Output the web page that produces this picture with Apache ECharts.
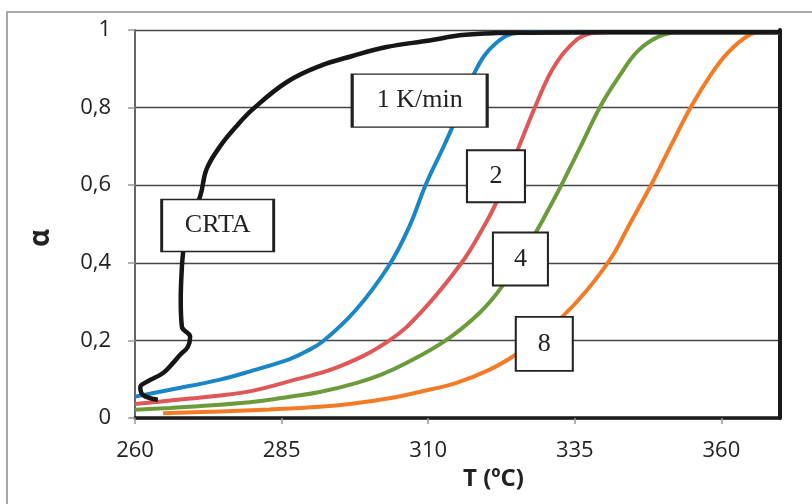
<!DOCTYPE html>
<html>
<head>
<meta charset="utf-8">
<script src="https://cdn.jsdelivr.net/npm/echarts@6/dist/echarts.min.js"></script>
<style>
  html, body { margin: 0; padding: 0; background: #fff; }
  #chart { width: 812px; height: 504px; }
</style>
</head>
<body>
<div id="chart"></div>
<script>
// temperature (°C) / conversion pairs
const crtaT = [263.9, 261.4, 260.9, 262.0, 264.8, 266.5, 267.7, 269.0, 269.4, 268.0, 267.8, 268.0, 268.2, 268.7, 271.1, 272.2, 274.5, 277.3, 280.1, 285.9, 291.5, 297.1, 302.9, 310.2, 315.8, 321.5, 327.7, 340, 370];
const crtaA = [0.047, 0.059, 0.08, 0.093, 0.116, 0.142, 0.163, 0.183, 0.209, 0.235, 0.305, 0.39, 0.426, 0.486, 0.571, 0.641, 0.70, 0.752, 0.796, 0.866, 0.907, 0.933, 0.956, 0.973, 0.987, 0.992, 0.993, 0.994, 0.994];

const k1T = [260, 266, 274.5, 280, 286.4, 289, 292, 297.7, 303.4, 306.8, 309.6, 312.4, 314.1, 318.1, 321.5, 325.5, 330, 370];
const k1A = [0.055, 0.073, 0.099, 0.122, 0.152, 0.17, 0.197, 0.279, 0.395, 0.494, 0.602, 0.692, 0.749, 0.896, 0.965, 0.993, 0.994, 0.994];

const k2T = [260, 266, 274.5, 280, 286.4, 294.9, 303.4, 309, 315.8, 319.2, 321.5, 325.2, 328.3, 331.1, 334, 337.4, 340.8, 345, 370];
const k2A = [0.036, 0.045, 0.058, 0.07, 0.095, 0.133, 0.2, 0.276, 0.402, 0.486, 0.552, 0.689, 0.804, 0.896, 0.956, 0.99, 0.994, 0.994, 0.994];

const k4T = [260, 266, 274.5, 281, 286.4, 291.5, 297.7, 302, 306.2, 313, 318.7, 322.6, 328.3, 330.6, 332.8, 336, 339.4, 342.5, 345.9, 349.8, 353.3, 360, 370];
const k4A = [0.021, 0.026, 0.034, 0.043, 0.055, 0.067, 0.09, 0.112, 0.141, 0.2, 0.27, 0.339, 0.477, 0.54, 0.603, 0.7, 0.804, 0.879, 0.948, 0.986, 0.994, 0.994, 0.994];

const k8T = [264.8, 274.5, 283, 291.5, 297, 303.4, 309, 314.7, 320.4, 324.9, 328.5, 332.8, 337, 341.3, 344.2, 348.1, 351.5, 354.9, 358.3, 361.2, 364.6, 366.9, 370];
const k8A = [0.012, 0.017, 0.022, 0.029, 0.037, 0.051, 0.069, 0.09, 0.124, 0.163, 0.205, 0.26, 0.328, 0.415, 0.495, 0.603, 0.705, 0.804, 0.887, 0.943, 0.986, 0.994, 0.994];

// callout boxes: text, anchor (T, alpha), box size
const noteText = ['CRTA', '1 K/min', '2', '4', '8'];
const noteT = [274.1, 308.55, 321.56, 325.73, 329.8];
const noteA = [0.496, 0.818, 0.623, 0.41, 0.191];
const noteW = [112, 135, 58, 55, 57];
const noteH = [52, 53, 52, 53, 54];

const xTicks = [260, 285, 310, 335, 360];
const yTicks = [0, 0.2, 0.4, 0.6, 0.8, 1];

const zip = (xs, ys) => xs.map((x, i) => [x, ys[i]]);

const chart = echarts.init(document.getElementById('chart'));

const curve = (name, xs, ys, color, width) => ({
  name,
  type: 'line',
  data: zip(xs, ys),
  smooth: 0.4,
  showSymbol: false,
  lineStyle: { color, width },
  z: 3,
});

const option = {
  animation: false,
  backgroundColor: '#fff',
  graphic: [
    {
      type: 'rect',
      shape: { x: 7, y: 12, width: 830, height: 520 },
      style: { fill: 'none', stroke: '#a8a8a8', lineWidth: 2 },
      silent: true,
    },
  ],
  grid: { left: 135, right: 32, top: 30, bottom: 86 },
  xAxis: [
    {
      type: 'value',
      min: 260,
      max: 370,
      interval: 25,
      name: 'T (ºC)',
      nameLocation: 'middle',
      nameGap: 48,
      nameTextStyle: {
        fontFamily: 'Open Sans',
        fontWeight: 'bold',
        fontSize: 24,
        color: '#222',
        padding: [0, 0, 0, 72],
      },
      axisLine: { lineStyle: { color: '#666', width: 2 } },
      axisTick: { show: true, length: 6, lineStyle: { color: '#999', width: 1.5 } },
      axisLabel: {
        showMaxLabel: false,
        margin: 22,
        fontFamily: 'Open Sans',
        fontSize: 22,
        color: '#222',
        formatter: (v) => (xTicks.includes(v) ? String(v) : ''),
      },
      splitLine: { show: false },
    },
    {
      type: 'value',
      position: 'top',
      min: 260,
      max: 370,
      axisLine: { lineStyle: { color: '#1a1a1a', width: 3.5 } },
      axisTick: { show: false },
      axisLabel: { show: false },
      splitLine: { show: false },
    },
  ],
  yAxis: [
    {
      type: 'value',
      min: 0,
      max: 1,
      interval: 0.2,
      name: 'α',
      nameLocation: 'middle',
      nameRotate: 90,
      nameGap: 80,
      nameTextStyle: {
        fontFamily: 'Open Sans',
        fontWeight: 'bold',
        fontSize: 28,
        color: '#222',
        padding: [0, 28, 0, 0],
      },
      axisLine: { show: true, lineStyle: { color: '#666', width: 2 } },
      axisTick: { show: true, length: 7, lineStyle: { color: '#999', width: 1.5 } },
      axisLabel: {
        margin: 24,
        fontFamily: 'Open Sans',
        fontSize: 22,
        color: '#222',
        formatter: (v) => {
          const t = yTicks.find((y) => Math.abs(y - v) < 1e-6);
          return t === undefined ? '' : String(t).replace('.', ',');
        },
      },
      splitLine: { lineStyle: { color: '#444', width: 1.4 } },
    },
    {
      type: 'value',
      position: 'right',
      min: 0,
      max: 1,
      axisLine: { show: true, lineStyle: { color: '#1a1a1a', width: 4 } },
      axisTick: { show: false },
      axisLabel: { show: false },
      splitLine: { show: false },
    },
  ],
  series: [
    curve('8', k8T, k8A, '#f47b26', 4),
    curve('4', k4T, k4A, '#6c9b3c', 4),
    curve('2', k2T, k2A, '#e05758', 4),
    curve('1 K/min', k1T, k1A, '#1a86c8', 4),
    curve('CRTA', crtaT, crtaA, '#161616', 4.5),
    {
      name: 'notes',
      type: 'scatter',
      z: 10,
      data: noteText.map((t, i) => ({
        value: [noteT[i], noteA[i]],
        symbolSize: [noteW[i], noteH[i]],
        label: { formatter: t },
      })),
      symbol: 'rect',
      itemStyle: { color: '#fff', borderColor: '#222', borderWidth: 2, opacity: 1 },
      label: {
        show: true,
        position: 'inside',
        fontFamily: 'Liberation Serif',
        fontSize: 26,
        color: '#222',
      },
      silent: true,
    },
  ],
};

chart.setOption(option);
</script>
</body>
</html>
